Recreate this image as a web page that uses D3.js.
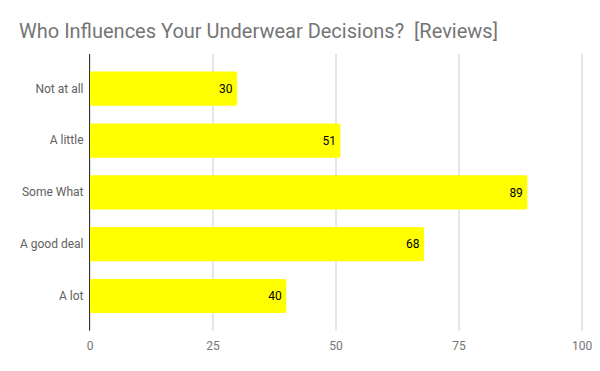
<!DOCTYPE html>
<html>
<head>
<meta charset="utf-8">
<script src="https://cdn.jsdelivr.net/npm/d3@7"></script>
<style>
  body { margin: 0; background: #fff; }
  svg { display: block; font-family: Roboto, Arial, sans-serif; }
</style>
</head>
<body>
<div id="chart"></div>
<script>
const categories = ["Not at all", "A little", "Some What", "A good deal", "A lot"];
const values = [30, 51, 89, 68, 40];
const xTicks = [0, 25, 50, 75, 100];
const title = "Who Influences Your Underwear Decisions?  [Reviews]";

const data = categories.map((c, i) => ({ category: c, value: values[i] }));

// Set dimensions and margins for the graph
const W = 600, H = 371;
const margin = { top: 54, right: 18.5, bottom: 40.3, left: 89.5 },
  width = W - margin.left - margin.right,
  height = H - margin.top - margin.bottom;

const root = d3.select("#chart")
  .append("svg")
  .attr("width", W)
  .attr("height", H);

// Title
root.append("text")
  .attr("x", 19)
  .attr("y", 37.5)
  .attr("fill", "#757575")
  .style("font-size", "20px")
  .style("white-space", "pre")
  .text(title);

const svg = root.append("g")
  .attr("transform", `translate(${margin.left},${margin.top})`);

const x = d3.scaleLinear().domain([0, 100]).range([0, width]);
const y = d3.scaleBand().domain(categories).range([0, height]).padding(0.34);

// Grid lines
const xAxisGroup = svg.append("g")
  .attr("transform", `translate(0,${height})`)
  .call(d3.axisBottom(x).tickValues(xTicks).tickSize(-height));
xAxisGroup.select(".domain").remove();
xAxisGroup.selectAll(".tick line").attr("stroke", "#cccccc");
xAxisGroup.selectAll("text")
  .style("font-family", "Roboto, Arial, sans-serif")
  .style("font-size", "12px")
  .attr("fill", "#757575")
  .attr("dy", "1.4em");

// Category axis
const yAxisGroup = svg.append("g").call(d3.axisLeft(y).tickSize(0).tickPadding(6));
yAxisGroup.select(".domain").remove();
yAxisGroup.selectAll("text")
  .style("font-family", "Roboto, Arial, sans-serif")
  .style("font-size", "12px")
  .attr("fill", "#616161");

// Bars
svg.selectAll(".bar")
  .data(data)
  .enter()
  .append("path")
  .attr("class", "bar")
  .attr("fill", "#ffff00")
  .attr("d", d => {
    const x1 = x(d.value), y0 = y(d.category), h = y.bandwidth(), r = 2;
    return `M0,${y0}H${x1 - r}Q${x1},${y0} ${x1},${y0 + r}V${y0 + h - r}Q${x1},${y0 + h} ${x1 - r},${y0 + h}H0Z`;
  });

// Value labels
svg.selectAll(".val")
  .data(data)
  .enter()
  .append("text")
  .attr("class", "val")
  .attr("x", d => x(d.value) - 4.5)
  .attr("y", d => y(d.category) + y.bandwidth() / 2)
  .attr("dy", "0.35em")
  .attr("text-anchor", "end")
  .attr("fill", "#000")
  .style("font-size", "12px")
  .text(d => d.value);

// Vertical axis line at zero
svg.append("line")
  .attr("x1", x(0)).attr("x2", x(0))
  .attr("y1", 0).attr("y2", height)
  .attr("stroke", "#333333")
  .attr("stroke-width", 1);
</script>
</body>
</html>
